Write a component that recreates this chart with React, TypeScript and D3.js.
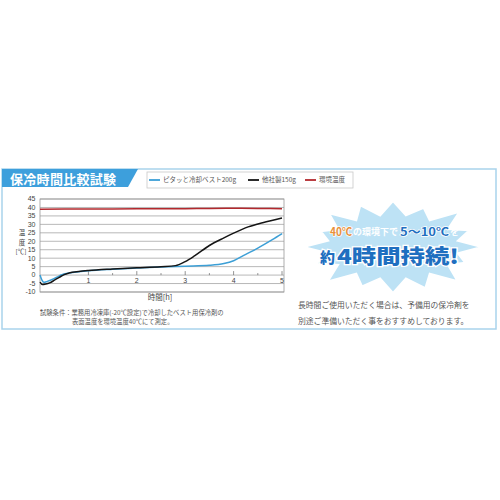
import * as d3 from 'd3';
import React from 'react';

// 試験データ
const blueHours = [0, 0.04, 0.08, 0.15, 0.25, 0.35, 0.45, 0.6, 0.8, 1, 1.5, 2, 2.5, 3, 3.5, 3.8, 4, 4.2, 4.5, 4.8, 5];
const blueTemps = [0, -3, -4.3, -3.7, -2.6, -1.2, 0.2, 1.2, 2, 2.6, 3.5, 4.2, 4.8, 5.3, 5.8, 6.8, 8.5, 11.5, 16, 21, 24.5];

const blackHours = [0, 0.05, 0.12, 0.2, 0.3, 0.4, 0.5, 0.6, 0.8, 1, 1.5, 2, 2.5, 2.8, 3, 3.2, 3.5, 3.8, 4, 4.3, 4.6, 5];
const blackTemps = [-4.2, -5.6, -5.3, -4.6, -3, -1.3, 0.3, 1.2, 2.1, 2.7, 3.6, 4.3, 5, 5.6, 8, 11.5, 17.5, 22, 24.8, 28.5, 31, 33.8];

const redHours = [0, 1, 2, 3, 3.5, 4, 4.5, 5];
const redTemps = [39, 39.1, 39.2, 39.3, 39.4, 39.5, 39.4, 39.3];

const yTicks = [45, 40, 35, 30, 25, 20, 15, 10, 5, 0, -5, -10];
const xTicks = [1, 2, 3, 4, 5];
const xMinorTicks = [0.5, 1.5, 2.5, 3.5, 4.5];

const seriesNames = ['ピタッと冷却ベスト200g', '他社製150g', '環境温度'];
const seriesColors = ['#3c9fd6', '#151515', '#b3282d'];

// スターバーストの突起（相対半径）
const burstSpikes = [1.0, 0.92, 1.08, 0.95, 1.02, 0.9, 1.05, 0.97, 1.0, 0.93, 1.06, 0.96, 1.03, 0.9, 1.04, 0.98];

const FONT = '"Noto Sans CJK JP", "Noto Sans", sans-serif';
const NUM_FONT = '"Liberation Sans", Arial, sans-serif';

type Pt = { h: number; t: number };
const zipPts = (hs: number[], ts: number[]): Pt[] => hs.map((h, i) => ({ h, t: ts[i] }));

const App: React.FC = () => {
  const x = d3.scaleLinear().domain([0, 5]).range([40, 282]);
  const y = d3.scaleLinear().domain([-10, 45]).range([292, 199]);

  const line = d3
    .line<Pt>()
    .x((d) => x(d.h))
    .y((d) => y(d.t))
    .curve(d3.curveMonotoneX);

  const series = [
    zipPts(blueHours, blueTemps),
    zipPts(blackHours, blackTemps),
    zipPts(redHours, redTemps),
  ];

  // スターバースト形状
  const cx = 393;
  const cy = 247;
  const rx = 87;
  const ry = 46;
  const n = burstSpikes.length;
  const burstPts: [number, number][] = [];
  burstSpikes.forEach((s, i) => {
    const a0 = (i / n) * Math.PI * 2 - Math.PI / 2;
    const a1 = ((i + 0.5) / n) * Math.PI * 2 - Math.PI / 2;
    burstPts.push([cx + Math.cos(a0) * rx * s, cy + Math.sin(a0) * ry * s]);
    burstPts.push([cx + Math.cos(a1) * rx * 0.76, cy + Math.sin(a1) * ry * 0.7]);
  });
  const burstPath = (d3.line().curve(d3.curveLinearClosed)(burstPts) as string) || '';

  return (
    <div style={{ position: 'absolute', left: 0, top: 0 }}>
      <svg width={500} height={500} style={{ display: 'block', background: '#fff', fontFamily: FONT }}>
        {/* パネル枠 */}
        <rect x={2} y={169} width={494} height={160} fill="#fff" stroke="#a9d3ec" strokeWidth={1.5} />
        <path d="M2,169 L138,169 L128,187 L2,187 Z" fill="#3d9fdc" />
        <text x={10} y={183.5} fontSize={13} fontWeight="bold" fill="#fff" letterSpacing={0.3}>
          保冷時間比較試験
        </text>

        {/* 凡例 */}
        <rect x={147} y={172} width={206} height={16} fill="#fff" stroke="#c8c8c8" strokeWidth={0.8} />
        {[149, 248, 305].map((lx, i) => (
          <g key={i}>
            <line x1={lx} x2={lx + 11} y1={180} y2={180} stroke={seriesColors[i]} strokeWidth={1.8} />
            <text x={lx + 14} y={182.3} fontSize={6.5} fill="#555">
              {seriesNames[i]}
            </text>
          </g>
        ))}

        {/* グリッド */}
        <rect x={40} y={y(45)} width={244} height={y(-10) - y(45)} fill="#fff" stroke="#9a9a9a" strokeWidth={0.8} />
        {yTicks.map((v) => (
          <g key={v}>
            <line x1={40} x2={284} y1={y(v)} y2={y(v)} stroke="#9a9a9a" strokeWidth={0.7} />
            <text x={35.5} y={y(v) + 2.4} fontSize={7} fontFamily={NUM_FONT} textAnchor="end" fill="#444">
              {v}
            </text>
          </g>
        ))}
        {xTicks.map((v) => (
          <g key={v}>
            <line x1={x(v)} x2={x(v)} y1={y(0) - 4} y2={y(0)} stroke="#777" strokeWidth={0.8} />
            <text x={x(v)} y={y(0) + 7.5} fontSize={7} fontFamily={NUM_FONT} textAnchor="middle" fill="#444">
              {v}
            </text>
          </g>
        ))}
        {xMinorTicks.map((v) => (
          <line key={v} x1={x(v)} x2={x(v)} y1={y(0) - 2} y2={y(0)} stroke="#777" strokeWidth={0.8} />
        ))}

        {/* データ線 */}
        {series.map((s, i) => (
          <path key={i} d={line(s) || ''} fill="none" stroke={seriesColors[i]} strokeWidth={1.5} />
        ))}

        {/* 軸ラベル */}
        <text x={22} y={235} fontSize={6.5} textAnchor="middle" fill="#444">温</text>
        <text x={22} y={244.5} fontSize={6.5} textAnchor="middle" fill="#444">度</text>
        <text x={21} y={254} fontSize={6.5} textAnchor="middle" fill="#444">[℃]</text>
        <text x={160} y={300} fontSize={7.5} textAnchor="middle" fill="#444">時間[h]</text>

        <text x={40} y={314.5} fontSize={6.3} fill="#555">
          試験条件：業務用冷凍庫(-20℃設定)で冷却したベスト用保冷剤の
        </text>
        <text x={72} y={324} fontSize={6.3} fill="#555">
          表面温度を環境温度40℃にて測定。
        </text>

        {/* スターバースト */}
        <path d={burstPath} fill="#bde2f5" stroke="#fff" strokeWidth={2} strokeLinejoin="miter" />
        <text x={330} y={235.5} fontSize={11} fontWeight="bold" fill="#e8903a" stroke="#fff" strokeWidth={1.5} paintOrder="stroke" textLength={22} lengthAdjust="spacingAndGlyphs">
          40℃
        </text>
        <text x={353} y={235} fontSize={9} fontWeight="bold" fill="#fff" textLength={45} lengthAdjust="spacingAndGlyphs">
          の環境下で
        </text>
        <text x={400} y={235.5} fontSize={11} fontWeight="bold" fill="#1f6fc0" stroke="#fff" strokeWidth={1.5} paintOrder="stroke" textLength={49} lengthAdjust="spacingAndGlyphs">
          5〜10℃
        </text>
        <text x={450} y={235} fontSize={9} fontWeight="bold" fill="#fff">
          を
        </text>
        <text x={320} y={263} fontSize={15} fontWeight="900" fill="#1f6fc0" stroke="#fff" strokeWidth={2.5} paintOrder="stroke">
          約
        </text>
        <text x={337} y={264} fontSize={20} fontWeight="900" fill="#1f6fc0" stroke="#fff" strokeWidth={2.5} paintOrder="stroke" textLength={122} lengthAdjust="spacingAndGlyphs">
          4時間持続!
        </text>

        {/* 右側注記 */}
        <text x={298} y={308} fontSize={7.8} fill="#555">
          長時間ご使用いただく場合は、予備用の保冷剤を
        </text>
        <text x={298} y={324} fontSize={7.8} fill="#555">
          別途ご準備いただく事をおすすめしております。
        </text>
      </svg>
    </div>
  );
};

export default App;
